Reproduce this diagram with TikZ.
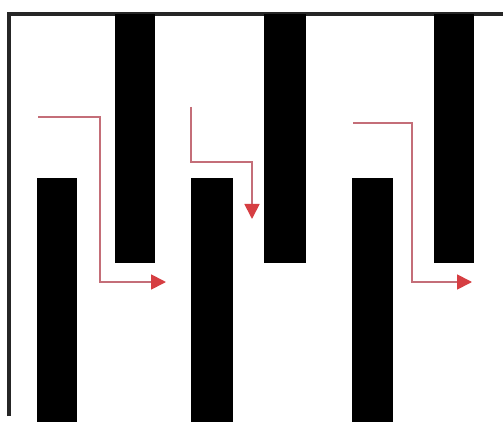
\documentclass[tikz,border=0pt]{standalone}
\usetikzlibrary{arrows.meta}
\definecolor{flowline}{RGB}{196,110,120}
\definecolor{flowtip}{RGB}{214,62,66}
\begin{document}
\begin{tikzpicture}[x=1pt,y=-1pt,
  bar/.style={fill=black,draw=none},
  flow/.style={draw=flowline,line width=1.8pt,
    -{Triangle[length=15pt,width=15pt,fill=flowtip,color=flowtip]}},
  frame/.style={draw=black!85,line width=3.2pt}]
\useasboundingbox (0,0) rectangle (503,422);
\fill[white] (0,0) rectangle (503,422);
% frame
\draw[frame] (9,416) -- (9,14) -- (503,14);
% hanging bars
\fill[bar] (115,14) rectangle (155,263);
\fill[bar] (264,14) rectangle (306,263);
\fill[bar] (434,14) rectangle (474,263);
% standing bars
\fill[bar] (37,178) rectangle (77,422);
\fill[bar] (191,178) rectangle (233,422);
\fill[bar] (352,178) rectangle (393,422);
% flows
\coordinate (s1) at (38,117);
\coordinate (e1) at (166,282);
\draw[flow] (s1) -- (100,117) -- (100,282) -- (e1);
\coordinate (s2) at (191,107);
\coordinate (e2) at (252,219);
\draw[flow] (s2) -- (191,162) -- (252,162) -- (e2);
\coordinate (s3) at (353,123);
\coordinate (e3) at (472,282);
\draw[flow] (s3) -- (412,123) -- (412,282) -- (e3);
\end{tikzpicture}
\end{document}
